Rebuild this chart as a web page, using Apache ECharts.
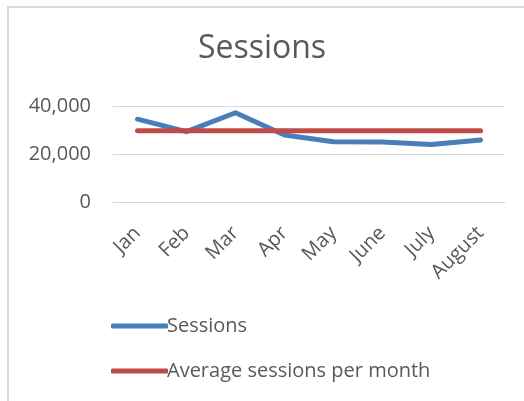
<!DOCTYPE html>
<html>
<head>
<meta charset="utf-8">
<script src="https://cdn.jsdelivr.net/npm/echarts@6/dist/echarts.min.js"></script>
<style>
html,body{margin:0;padding:0;background:#fff;}
#c{width:524px;height:401px;}
</style>
</head>
<body>
<div id="c"></div>
<script>
const categories = ['Jan','Feb','Mar','Apr','May','June','July','August'];
const sessions = [34500, 29300, 37200, 27900, 25100, 25000, 24000, 25800];
const averageSessions = [29700, 29700, 29700, 29700, 29700, 29700, 29700, 29700];
const yTicks = [0, 20000, 40000];

const font = '"Open Sans", "Noto Sans", sans-serif';
const chart = echarts.init(document.getElementById('c'), null, {renderer: 'canvas'});
chart.setOption({
  animation: false,
  backgroundColor: '#fff',
  title: {
    text: 'Sessions',
    left: 'center',
    top: 28,
    textStyle: {fontFamily: font, fontSize: 32, fontWeight: 'normal', color: '#595959'}
  },
  graphic: [{
    type: 'polyline',
    shape: {points: [[8, 401], [8, 7], [524, 7]]},
    style: {stroke: '#d9d9d9', lineWidth: 2, fill: null},
    silent: true
  }],
  grid: {left: 113, right: 19, top: 106, bottom: 199, containLabel: false},
  xAxis: {
    type: 'category',
    data: categories,
    boundaryGap: true,
    axisLine: {show: true, lineStyle: {color: '#d9d9d9', width: 1}},
    axisTick: {show: false},
    axisLabel: {rotate: 45, interval: 0, margin: 28, fontFamily: font, fontSize: 20, color: '#595959'}
  },
  yAxis: {
    type: 'value',
    min: yTicks[0],
    max: yTicks[yTicks.length - 1],
    interval: yTicks[1] - yTicks[0],
    axisLine: {show: false},
    axisTick: {show: false},
    splitLine: {lineStyle: {color: '#d9d9d9', width: 1}},
    axisLabel: {
      margin: 22, fontFamily: font, fontSize: 20, color: '#595959',
      formatter: v => v.toLocaleString('en-US')
    }
  },
  legend: {
    orient: 'vertical',
    left: 106,
    top: 311,
    height: 90,
    itemWidth: 57,
    itemHeight: 5,
    itemGap: 25,
    icon: 'roundRect',
    textStyle: {fontFamily: font, fontSize: 20, color: '#595959', padding: [0, 0, 0, -6]},
    data: ['Sessions', 'Average sessions per month']
  },
  series: [
    {
      name: 'Sessions', type: 'line', data: sessions,
      symbol: 'none', smooth: false,
      lineStyle: {color: '#4a7ebb', width: 5, cap: 'round', join: 'round'},
      itemStyle: {color: '#4a7ebb'}, z: 2
    },
    {
      name: 'Average sessions per month', type: 'line', data: averageSessions,
      symbol: 'none',
      lineStyle: {color: '#be4b48', width: 5, cap: 'round', join: 'round'},
      itemStyle: {color: '#be4b48'}, z: 3
    }
  ]
});
</script>
</body>
</html>
